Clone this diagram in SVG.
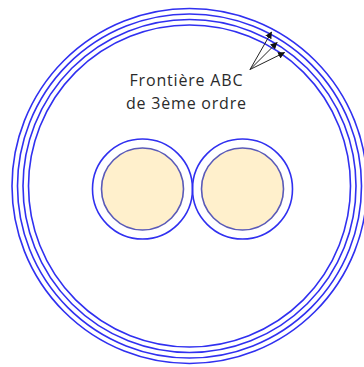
<svg xmlns="http://www.w3.org/2000/svg" width="364" height="367" viewBox="0 0 364 367">
<style>
.ring{fill:none;stroke:#3030f0;stroke-width:1.6}
.core{fill:#fff0cc;stroke:#5a5ab8;stroke-width:1.6}
.arr{stroke:#222;stroke-width:1;fill:none}
.lbl{font-family:"Open Sans","Liberation Sans",sans-serif;font-size:16px;fill:#2a2a2a;text-anchor:middle}
</style>
<defs>
<marker id="ah" viewBox="0 0 10 10" refX="9" refY="5" markerWidth="7" markerHeight="7" orient="auto" markerUnits="userSpaceOnUse">
<path d="M0,0 L10,5 L0,10 z" fill="#111"/>
</marker>
</defs>
<rect width="364" height="367" fill="#fff"/>
<g id="boundary">
<circle class="ring" cx="189.5" cy="186" r="177.5"/>
<circle class="ring" cx="189.5" cy="186" r="172"/>
<circle class="ring" cx="189.5" cy="186" r="166.5"/>
<circle class="ring" cx="189.5" cy="186" r="161"/>
</g>
<g id="conductor1">
<circle class="ring" cx="142.5" cy="189" r="50"/>
<circle class="core" cx="142.5" cy="189" r="41"/>
</g>
<g id="conductor2">
<circle class="ring" cx="242.5" cy="189" r="50"/>
<circle class="core" cx="242.5" cy="189" r="41"/>
</g>
<g id="connectors">
<line class="arr" x1="250" y1="69.5" x2="271.5" y2="32" marker-end="url(#ah)"/>
<line class="arr" x1="250" y1="69.5" x2="277" y2="42.5" marker-end="url(#ah)"/>
<line class="arr" x1="250" y1="69.5" x2="284.5" y2="52.5" marker-end="url(#ah)"/>
</g>
<g id="label">
<text class="lbl" x="186" y="86" textLength="113" lengthAdjust="spacing">Frontière ABC</text>
<text class="lbl" x="186" y="109" textLength="120" lengthAdjust="spacing">de 3ème ordre</text>
</g>
</svg>
